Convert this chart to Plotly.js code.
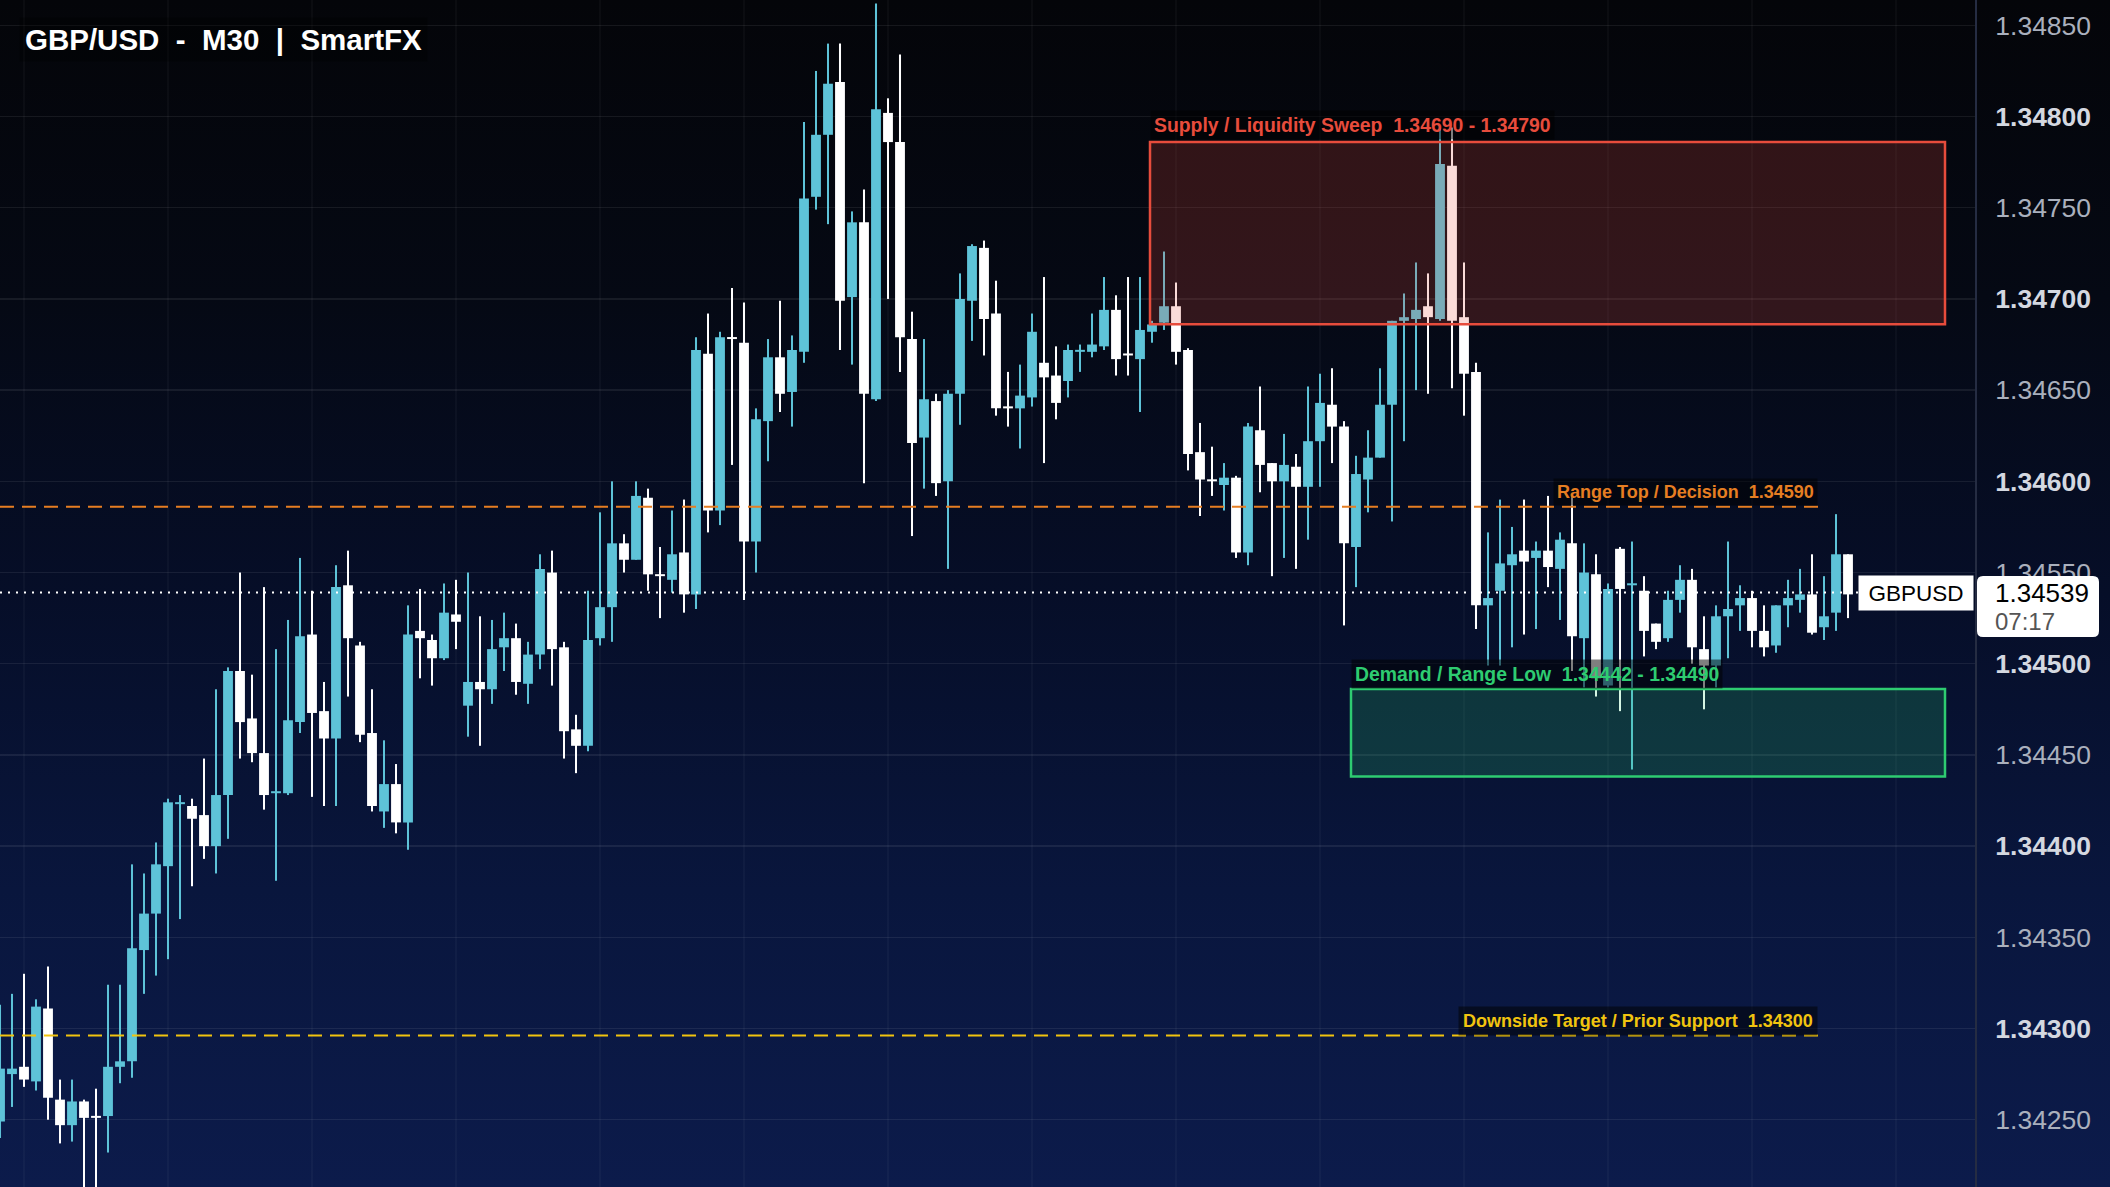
<!DOCTYPE html>
<html><head><meta charset="utf-8">
<script src="https://cdn.plot.ly/plotly-3.0.1.min.js"></script>
<style>
html,body{margin:0;padding:0;width:2110px;height:1187px;overflow:hidden;
background:linear-gradient(180deg,#040509 0%,#050914 25%,#060e28 50%,#09163d 75%,#0c1b4b 100%);}
#chart{width:2110px;height:1187px;}
</style></head><body><div id="chart"></div>
<script>
// ---- data (GBP/USD M30 candles) ----
const opens = [1.34249,1.34275,1.34279,1.34271,1.34311,1.34261,1.34247,1.34260,1.34252,1.34252,
1.34279,1.34282,1.34343,1.34363,1.34389,1.34423,1.34422,1.34417,1.34400,1.34428,
1.34496,1.34470,1.34451,1.34429,1.34429,1.34468,1.34516,1.34474,1.34459,1.34543,
1.34510,1.34462,1.34419,1.34434,1.34413,1.34518,1.34513,1.34503,1.34527,1.34477,
1.34490,1.34486,1.34509,1.34514,1.34489,1.34505,1.34550,1.34509,1.34464,1.34455,
1.34514,1.34531,1.34566,1.34557,1.34591,1.34549,1.34546,1.34561,1.34538,1.34670,
1.34584,1.34679,1.34676,1.34567,1.34633,1.34668,1.34649,1.34671,1.34756,1.34790,
1.34819,1.34701,1.34742,1.34645,1.34802,1.34786,1.34678,1.34624,1.34644,1.34600,
1.34648,1.34699,1.34728,1.34692,1.34641,1.34640,1.34646,1.34665,1.34658,1.34655,
1.34671,1.34671,1.34674,1.34694,1.34670,1.34667,1.34682,1.34687,1.34696,1.34672,
1.34616,1.34601,1.34598,1.34602,1.34561,1.34628,1.34610,1.34600,1.34608,1.34597,
1.34622,1.34642,1.34630,1.34564,1.34601,1.34613,1.34642,1.34688,1.34689,1.34696,
1.34689,1.34773,1.34690,1.34660,1.34532,1.34540,1.34554,1.34562,1.34558,1.34562,
1.34552,1.34566,1.34514,1.34549,1.34488,1.34563,1.34543,1.34540,1.34522,1.34514,
1.34535,1.34546,1.34508,1.34499,1.34526,1.34532,1.34536,1.34518,1.34510,1.34532,
1.34535,1.34538,1.34520,1.34528,1.34560];

const highs = [1.34313,1.34319,1.34330,1.34316,1.34334,1.34272,1.34272,1.34261,1.34267,1.34324,
1.34324,1.34390,1.34385,1.34402,1.34426,1.34428,1.34426,1.34448,1.34486,1.34498,
1.34550,1.34494,1.34542,1.34508,1.34524,1.34558,1.34540,1.34490,1.34554,1.34562,
1.34512,1.34486,1.34458,1.34445,1.34532,1.34541,1.34516,1.34544,1.34546,1.34550,
1.34526,1.34524,1.34528,1.34522,1.34512,1.34560,1.34562,1.34512,1.34472,1.34540,
1.34583,1.34600,1.34571,1.34600,1.34596,1.34564,1.34584,1.34590,1.34679,1.34692,
1.34682,1.34706,1.34698,1.34640,1.34678,1.34699,1.34680,1.34797,1.34825,1.34840,
1.34840,1.34748,1.34760,1.34862,1.34810,1.34834,1.34693,1.34678,1.34648,1.34650,
1.34714,1.34730,1.34732,1.34710,1.34660,1.34664,1.34692,1.34712,1.34674,1.34675,
1.34675,1.34692,1.34712,1.34702,1.34712,1.34712,1.34688,1.34726,1.34709,1.34673,
1.34632,1.34619,1.34610,1.34603,1.34632,1.34652,1.34610,1.34626,1.34615,1.34652,
1.34659,1.34662,1.34633,1.34614,1.34628,1.34662,1.34688,1.34703,1.34720,1.34714,
1.34794,1.34794,1.34720,1.34665,1.34572,1.34590,1.34575,1.34590,1.34567,1.34592,
1.34572,1.34592,1.34566,1.34560,1.34544,1.34564,1.34567,1.34548,1.34522,1.34540,
1.34554,1.34552,1.34526,1.34532,1.34567,1.34543,1.34540,1.34532,1.34532,1.34546,
1.34552,1.34560,1.34548,1.34582,1.34560];

const lows = [1.34240,1.34257,1.34268,1.34266,1.34250,1.34237,1.34238,1.34195,1.34200,1.34232,
1.34270,1.34273,1.34319,1.34329,1.34338,1.34360,1.34378,1.34393,1.34385,1.34404,
1.34448,1.34446,1.34420,1.34381,1.34428,1.34462,1.34427,1.34422,1.34422,1.34482,
1.34457,1.34419,1.34410,1.34407,1.34398,1.34492,1.34488,1.34502,1.34508,1.34460,
1.34455,1.34478,1.34496,1.34483,1.34478,1.34497,1.34488,1.34448,1.34440,1.34452,
1.34510,1.34512,1.34550,1.34557,1.34540,1.34525,1.34539,1.34528,1.34530,1.34572,
1.34576,1.34609,1.34535,1.34550,1.34611,1.34638,1.34630,1.34665,1.34749,1.34741,
1.34672,1.34664,1.34599,1.34644,1.34700,1.34660,1.34570,1.34596,1.34592,1.34552,
1.34631,1.34677,1.34669,1.34636,1.34630,1.34618,1.34641,1.34610,1.34634,1.34646,
1.34660,1.34668,1.34672,1.34658,1.34658,1.34638,1.34676,1.34683,1.34664,1.34606,
1.34581,1.34592,1.34584,1.34558,1.34554,1.34594,1.34548,1.34558,1.34552,1.34568,
1.34597,1.34610,1.34521,1.34542,1.34583,1.34613,1.34578,1.34622,1.34650,1.34648,
1.34688,1.34651,1.34636,1.34519,1.34499,1.34499,1.34509,1.34516,1.34519,1.34542,
1.34524,1.34496,1.34487,1.34482,1.34487,1.34474,1.34442,1.34504,1.34508,1.34512,
1.34528,1.34500,1.34475,1.34487,1.34503,1.34518,1.34509,1.34504,1.34506,1.34520,
1.34528,1.34516,1.34513,1.34518,1.34525];

const closes = [1.34278,1.34278,1.34272,1.34312,1.34262,1.34247,1.34260,1.34251,1.34251,1.34279,
1.34282,1.34344,1.34363,1.34390,1.34424,1.34424,1.34415,1.34400,1.34428,1.34496,
1.34468,1.34451,1.34428,1.34430,1.34469,1.34515,1.34473,1.34459,1.34542,1.34514,
1.34461,1.34422,1.34434,1.34413,1.34516,1.34514,1.34503,1.34528,1.34523,1.34490,
1.34486,1.34508,1.34514,1.34490,1.34505,1.34552,1.34508,1.34463,1.34455,1.34513,
1.34531,1.34566,1.34557,1.34592,1.34549,1.34548,1.34560,1.34538,1.34672,1.34584,
1.34679,1.34678,1.34567,1.34634,1.34668,1.34648,1.34672,1.34755,1.34790,1.34818,
1.34699,1.34742,1.34648,1.34804,1.34786,1.34679,1.34621,1.34645,1.34599,1.34648,
1.34700,1.34729,1.34689,1.34640,1.34640,1.34647,1.34682,1.34657,1.34643,1.34672,
1.34672,1.34675,1.34694,1.34667,1.34669,1.34683,1.34686,1.34696,1.34671,1.34615,
1.34601,1.34600,1.34602,1.34561,1.34630,1.34609,1.34600,1.34609,1.34597,1.34622,
1.34643,1.34630,1.34566,1.34604,1.34613,1.34642,1.34688,1.34690,1.34694,1.34690,
1.34774,1.34688,1.34659,1.34532,1.34536,1.34555,1.34560,1.34556,1.34562,1.34553,
1.34568,1.34515,1.34550,1.34492,1.34541,1.34541,1.34544,1.34518,1.34512,1.34535,
1.34546,1.34509,1.34499,1.34526,1.34530,1.34536,1.34518,1.34509,1.34532,1.34536,
1.34538,1.34517,1.34526,1.34560,1.34538];

const tickValues = [1.34250,1.34300,1.34350,1.34400,1.34450,1.34500,1.34550,1.34600,1.34650,1.34700,1.34750,1.34800,1.34850];

const supplyZone = [1.34690, 1.34790];
const demandZone = [1.34442, 1.34490];
const rangeTop = 1.34590;
const downsideTarget = 1.34300;
const lastPrice = 1.34539;
const countdown = '07:17';
const symbol = 'GBPUSD';
const titleText = 'GBP/USD\u00a0\u00a0-\u00a0\u00a0M30\u00a0\u00a0|\u00a0\u00a0SmartFX';

// ---- styling ----
const UP = '#5ec3d8', DOWN = '#ffffff';
const FONT = 'Liberation Sans, Arial, Helvetica, sans-serif';
const PX = 12;                 // pixels per candle slot
const PLOT_W = 1975;
const LEVEL_SHIFT = -0.000039; // the source draws its level lines/zones ~7px below their quoted prices

const idx = opens.map((_, i) => i);
const colors = opens.map((o, i) => closes[i] >= o ? UP : DOWN);
const bodyBase = opens.map((o, i) => Math.min(o, closes[i]));
const bodyLen = opens.map((o, i) => Math.max(Math.abs(closes[i] - o), 0.000011));
const wickLen = highs.map((h, i) => h - lows[i]);

const wicks = {type:'bar', x:idx, base:lows, y:wickLen, width:0.17,
  marker:{color:colors, line:{width:0}}, hoverinfo:'skip'};
const bodies = {type:'bar', x:idx, base:bodyBase, y:bodyLen, width:0.82,
  marker:{color:colors, line:{width:0}}, hoverinfo:'skip'};

const tickText = tickValues.map(v => {
  const s = v.toFixed(5);
  return (Math.round(v*1e5) % 100 === 0) ? '<span style="color:#d4d8e0"><b>'+s+'</b></span>' : s;
});

const xEnd = PLOT_W / PX;
const lineEnd = 1818 / PX;
const boxRight = 1945 / PX;
const lv = v => v + LEVEL_SHIFT;

const shapes = [
  {type:'rect', xref:'x', yref:'y', x0:1150/PX, x1:boxRight, y0:lv(supplyZone[0]), y1:lv(supplyZone[1]),
   fillcolor:'rgba(231,76,60,0.2)', line:{color:'#e74c3c', width:2.5}, layer:'above'},
  {type:'rect', xref:'x', yref:'y', x0:1351/PX, x1:boxRight, y0:lv(demandZone[0]), y1:lv(demandZone[1]),
   fillcolor:'rgba(46,204,113,0.2)', line:{color:'#2ecc71', width:2.5}, layer:'above'},
  {type:'line', xref:'x', yref:'y', x0:0, x1:lineEnd, y0:lv(rangeTop), y1:lv(rangeTop),
   line:{color:'#e67e22', width:2, dash:'14px,8px'}, layer:'above'},
  {type:'line', xref:'x', yref:'y', x0:0, x1:lineEnd, y0:lv(downsideTarget), y1:lv(downsideTarget),
   line:{color:'#f1c40f', width:2, dash:'14px,8px'}, layer:'above'},
  {type:'line', xref:'x', yref:'y', x0:0, x1:1858/PX, y0:lastPrice, y1:lastPrice,
   line:{color:'#ffffff', width:2, dash:'2px,6px'}, layer:'above'}
];

// rounded white price box on the axis (paper coords)
(function(){
  const H = 1187;
  const px = x => x / PLOT_W, py = y => 1 - y / H;
  const x0 = 1977, x1 = 2099, y0 = 576, y1 = 637, r = 6;
  const d = 'M '+px(x0+r)+','+py(y0)+' L '+px(x1-r)+','+py(y0)+' Q '+px(x1)+','+py(y0)+' '+px(x1)+','+py(y0+r)+
    ' L '+px(x1)+','+py(y1-r)+' Q '+px(x1)+','+py(y1)+' '+px(x1-r)+','+py(y1)+
    ' L '+px(x0+r)+','+py(y1)+' Q '+px(x0)+','+py(y1)+' '+px(x0)+','+py(y1-r)+
    ' L '+px(x0)+','+py(y0+r)+' Q '+px(x0)+','+py(y0)+' '+px(x0+r)+','+py(y0)+' Z';
  shapes.push({type:'path', xref:'paper', yref:'paper', path:d, fillcolor:'#ffffff', line:{width:0}, layer:'above'});
})();

const labelBg = 'rgba(0,0,0,0.5)';
const annotations = [
  {xref:'paper', yref:'paper', x:19/PLOT_W, y:1-39/1187, xanchor:'left', yanchor:'middle',
   text:titleText, showarrow:false, bgcolor:'rgba(0,0,0,0.3)', borderpad:5,
   font:{family:FONT, size:29.5, color:'#ffffff', weight:700}},
  {xref:'x', yref:'y', x:1150/PX, y:1.347955, xanchor:'left', yanchor:'middle', showarrow:false,
   text:'Supply / Liquidity Sweep\u00a0\u00a0'+supplyZone[0].toFixed(5)+' - '+supplyZone[1].toFixed(5),
   bgcolor:labelBg, borderpad:3, font:{family:FONT, size:19.4, color:'#e74c3c', weight:700}},
  {xref:'x', yref:'y', x:lineEnd, y:1.345940, xanchor:'right', yanchor:'middle', showarrow:false,
   text:'Range Top / Decision\u00a0\u00a0'+rangeTop.toFixed(5),
   bgcolor:labelBg, borderpad:3, font:{family:FONT, size:18, color:'#e67e22', weight:700}},
  {xref:'x', yref:'y', x:1351/PX, y:1.344945, xanchor:'left', yanchor:'middle', showarrow:false,
   text:'Demand / Range Low\u00a0\u00a0'+demandZone[0].toFixed(5)+' - '+demandZone[1].toFixed(5),
   bgcolor:labelBg, borderpad:3, font:{family:FONT, size:19.4, color:'#2ecc71', weight:700}},
  {xref:'x', yref:'y', x:lineEnd, y:1.343041, xanchor:'right', yanchor:'middle', showarrow:false,
   text:'Downside Target / Prior Support\u00a0\u00a0'+downsideTarget.toFixed(5),
   bgcolor:labelBg, borderpad:4, font:{family:FONT, size:18, color:'#f1c40f', weight:700}},
  {xref:'x', yref:'y', x:1858/PX, y:lastPrice, xanchor:'left', yanchor:'middle', showarrow:false,
   text:symbol, bgcolor:'#ffffff', borderpad:3, width:108, height:28,
   font:{family:FONT, size:22.5, color:'#000000'}},
  {xref:'paper', yref:'paper', x:1993/PLOT_W, y:1-593/1187, xanchor:'left', yanchor:'middle', showarrow:false,
   text:lastPrice.toFixed(5), font:{family:FONT, size:26, color:'#000000'}},
  {xref:'paper', yref:'paper', x:1993/PLOT_W, y:1-621/1187, xanchor:'left', yanchor:'middle', showarrow:false,
   text:countdown, font:{family:FONT, size:24, color:'#555555'}}
];

const layout = {
  width:2110, height:1187,
  margin:{l:0, r:2110-PLOT_W, t:0, b:0, pad:0},
  paper_bgcolor:'rgba(0,0,0,0)', plot_bgcolor:'rgba(0,0,0,0)',
  barmode:'overlay', showlegend:false, hovermode:false,
  xaxis:{range:[0, xEnd], showticklabels:false, ticks:'', zeroline:false,
    showgrid:true, tick0:2, dtick:12, gridcolor:'rgba(255,255,255,0.03)', gridwidth:1.5, showline:false},
  yaxis:{side:'right', range:[1.342131, 1.348639], tickmode:'array', tickvals:tickValues, ticktext:tickText,
    tickfont:{family:FONT, size:26.5, color:'#aab0bd'}, ticks:'', ticklabelstandoff:13,
    showgrid:true, gridcolor:'rgba(255,255,255,0.075)', gridwidth:1.5, zeroline:false,
    showline:true, linecolor:'#252c42', linewidth:2},
  shapes:shapes, annotations:annotations
};

Plotly.newPlot('chart', [wicks, bodies], layout, {staticPlot:true, displayModeBar:false});
</script></body></html>
